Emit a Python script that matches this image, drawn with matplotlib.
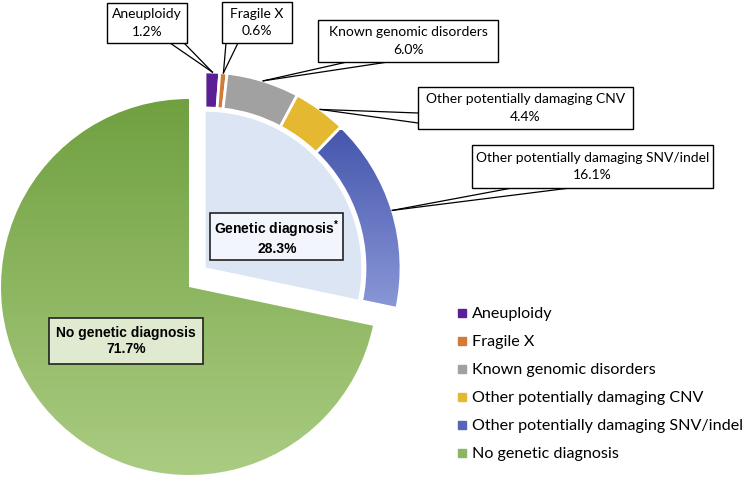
import numpy as np
import matplotlib.pyplot as plt
from matplotlib.patches import Wedge, Rectangle
from matplotlib.colors import LinearSegmentedColormap
from matplotlib.lines import Line2D

# data
categories = ['Aneuploidy', 'Fragile X', 'Known genomic disorders',
              'Other potentially damaging CNV', 'Other potentially damaging SNV/indel',
              'No genetic diagnosis']
values = [1.2, 0.6, 6.0, 4.4, 16.1, 71.7]
colors = ['#5a1f94', '#d27a3a', '#a1a1a1', '#e5b831', '#5566b8', '#8db662']
genetic_total = 28.3

W, H = 747, 478
Y = lambda y: H - y   # picture pixels (y down) -> axes units (y up)

plt.rcParams['mathtext.fontset'] = 'custom'
plt.rcParams['mathtext.rm'] = 'Liberation Sans:bold'
plt.rcParams['mathtext.it'] = 'Liberation Sans:bold'

fig = plt.figure(figsize=(W / 100, H / 100), dpi=100)
ax = fig.add_axes([0, 0, 1, 1])


def gradient_fill(patch, top_color, bottom_color, y0, y1, x0, x1):
    cmap = LinearSegmentedColormap.from_list('g', [bottom_color, top_color])
    arr = np.linspace(0, 1, 256).reshape(-1, 1)
    im = ax.imshow(arr, cmap=cmap, extent=(x0, x1, y0, y1), origin='lower',
                   aspect='auto', zorder=patch.get_zorder())
    im.set_clip_path(patch)


# no genetic diagnosis (big slice)
deg = 3.6
c_main = (189, Y(287))
r_main = 188
green = Wedge(c_main, r_main, 90, 90 + deg * values[5], facecolor='none',
              edgecolor='none', zorder=1)
ax.add_patch(green)
gradient_fill(green, '#70a040', '#aacc82', c_main[1] - r_main, c_main[1] + r_main,
              c_main[0] - r_main, c_main[0] + r_main)

# genetic diagnosis (exploded slice)
c_gen = (205, Y(268))
r_in = 157
r_out = 196
ring_w = 36
g_start = 90 - deg * genetic_total
ax.add_patch(Wedge(c_gen, r_in, g_start, 90, facecolor='#dce5f3',
                   edgecolor='white', lw=1, zorder=2))

# ring with sub categories
tips = []
start = 90
for i in range(5):
    end = start - deg * values[i]
    w = Wedge(c_gen, r_out, end, start, width=ring_w, facecolor=colors[i],
              edgecolor='white', lw=2, zorder=2)
    ax.add_patch(w)
    if i == 4:
        w.set_facecolor('none')
        gradient_fill(w, '#4656ad', '#8c9ad8', Y(315), Y(130), 300, 420)
        ax.add_patch(Wedge(c_gen, r_out, end, start, width=ring_w, facecolor='none',
                           edgecolor='white', lw=2, zorder=3))
    mid = np.radians((start + end) / 2)
    tips.append((c_gen[0] + r_out * np.cos(mid), c_gen[1] + r_out * np.sin(mid)))
    start = end

# callouts: box (x0, y0, x1, y1) and pointer base points, picture pixels
callouts = [
    ((107, 3, 187, 43), [(170, 43), (184, 43)]),
    ((222, 2, 292, 43), [(226, 43), (238, 43)]),
    ((318, 20, 498, 62), [(347, 62), (388, 62)]),
    ((418, 87, 633, 129), [(418, 113), (418, 123)]),
    ((472, 145, 713, 188), [(512, 188), (570, 188)]),
]
for i, (box, base) in enumerate(callouts):
    x0, y0, x1, y1 = box
    tip = tips[i]
    for bx, by in base:
        ax.plot([bx, tip[0]], [Y(by), tip[1]], color='black', lw=0.9, zorder=4)
    ax.add_patch(Rectangle((x0, Y(y1)), x1 - x0, y1 - y0, facecolor='white',
                           edgecolor='black', lw=1, zorder=5))
    ax.text((x0 + x1) / 2, Y((y0 + y1) / 2), f'{categories[i]}\n{values[i]:.1f}%',
            ha='center', va='center', fontsize=10, family='Lato', linespacing=1.55,
            zorder=6)

# inner labels
ax.add_patch(Rectangle((210, Y(260)), 133, 47, facecolor='#f2f5fb',
                       edgecolor='#222222', lw=1.2, zorder=5))
ax.text(277, Y(237), 'Genetic diagnosis$^{*}$\n' + f'{genetic_total:.1f}%',
        ha='center', va='center', fontsize=10, family='Liberation Sans',
        fontweight='bold', linespacing=1.2, zorder=6)
ax.add_patch(Rectangle((49, Y(364)), 154, 46, facecolor='#dfead0',
                       edgecolor='#222222', lw=1.2, zorder=5))
ax.text(126, Y(341), f'{categories[5]}\n{values[5]:.1f}%',
        ha='center', va='center', fontsize=10, family='Liberation Sans',
        fontweight='bold', linespacing=1.25, zorder=6)

# legend
handles = [Line2D([], [], marker='s', linestyle='', color=c, markersize=5.5)
           for c in colors]
ax.legend(handles, categories, loc='upper left', bbox_to_anchor=(449 / W, 1 - 299 / H),
          bbox_transform=fig.transFigure, frameon=False, handlelength=0.6,
          handletextpad=0.3, labelspacing=0.85, borderpad=0,
          prop={'family': 'Lato', 'size': 11.6})

ax.set_xlim(0, W)
ax.set_ylim(0, H)
ax.set_aspect('equal')
ax.axis('off')
fig.savefig('out.png', dpi=100)
